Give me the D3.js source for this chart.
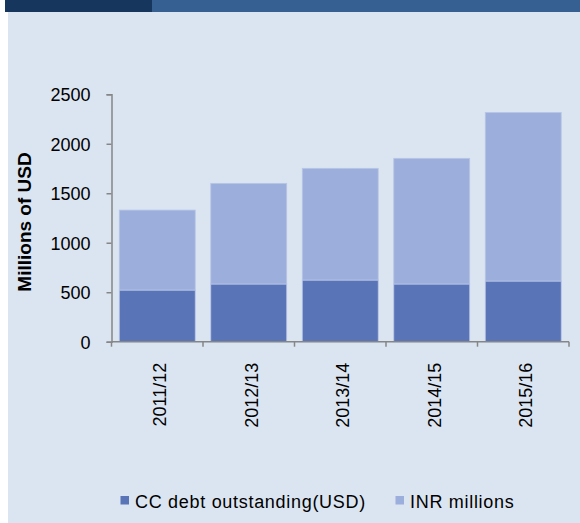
<!DOCTYPE html>
<html lang="en">
<head>
<meta charset="UTF-8">
<title>CC debt outstanding</title>
<style>
    body { margin: 0; background: #fff; }
    svg text { font-family: "Liberation Sans", Arial, sans-serif; fill: #000; }
</style>
</head>
<body>
<div id="chart"></div>
<script src="https://cdn.jsdelivr.net/npm/d3@7"></script>
<script>
    var years = ["2011/12", "2012/13", "2013/14", "2014/15", "2015/16"];
    var ccDebt = [522, 583, 623, 583, 613];
    var inrMillions = [808, 1017, 1129, 1270, 1704];
    var yTicks = [0, 500, 1000, 1500, 2000, 2500];
    var seriesNames = ["CC debt outstanding(USD)", "INR millions"];
    var colors = ["#5a74b8", "#9caedb"];

    var width = 580, height = 523;
    var svg = d3.select("#chart").append("svg")
        .attr("width", width).attr("height", height);

    // header strip + panel background
    svg.append("rect").attr("x", 8).attr("y", 12).attr("width", width - 8).attr("height", height - 12).attr("fill", "#dbe5f1");
    svg.append("rect").attr("x", 5).attr("y", 0).attr("width", 147).attr("height", 12).attr("fill", "#17365d");
    svg.append("rect").attr("x", 152).attr("y", 0).attr("width", width - 152).attr("height", 12).attr("fill", "#366092");

    var plotLeft = 111.5, plotRight = 569, plotTop = 94.3, plotBottom = 341.7;
    var x = d3.scaleBand().domain(years).range([plotLeft, plotRight]).paddingInner(0.17).paddingOuter(0.085);
    var y = d3.scaleLinear().domain([0, 2500]).range([plotBottom, plotTop]);

    var stackData = years.map(function (yr, i) { return {year: yr, cc: ccDebt[i], inr: inrMillions[i]}; });
    var series = d3.stack().keys(["cc", "inr"])(stackData);

    var g = svg.append("g");
    series.forEach(function (s, k) {
        g.selectAll(".bar" + k).data(s).enter().append("rect")
            .attr("class", "bar" + k)
            .attr("x", function (d) { return x(d.data.year); })
            .attr("width", x.bandwidth())
            .attr("y", function (d) { return y(d[1]); })
            .attr("height", function (d) { return y(d[0]) - y(d[1]); })
            .attr("fill", colors[k])
            .attr("stroke", "#b8c5e6").attr("stroke-width", 0.8);
    });

    // y axis
    var yAxis = svg.append("g").attr("transform", "translate(" + plotLeft + ",0)")
        .call(d3.axisLeft(y).tickValues(yTicks).tickFormat(d3.format("d")).tickSize(5).tickPadding(16));
    yAxis.select(".domain").attr("stroke", "#868686").attr("stroke-width", 1.5);
    yAxis.selectAll(".tick line").attr("stroke", "#868686").attr("stroke-width", 1.5);
    yAxis.selectAll(".tick text").attr("font-size", "18px")
        .attr("font-family", "Liberation Sans, Arial, sans-serif").attr("dy", "0.36em");

    // x axis with boundary ticks
    var xAxis = svg.append("g").attr("transform", "translate(0," + plotBottom + ")");
    xAxis.append("line").attr("x1", plotLeft).attr("x2", plotRight).attr("stroke", "#868686").attr("stroke-width", 1.5);
    var step = (plotRight - plotLeft) / years.length;
    xAxis.selectAll(".xt").data(d3.range(years.length + 1)).enter().append("line")
        .attr("x1", function (i) { return plotLeft + i * step; })
        .attr("x2", function (i) { return plotLeft + i * step; })
        .attr("y1", 0).attr("y2", 5)
        .attr("stroke", "#868686").attr("stroke-width", 1.5);
    xAxis.selectAll(".xl").data(years).enter().append("text")
        .attr("transform", function (d) {
            return "translate(" + (x(d) + x.bandwidth() / 2 + 9) + ",21)rotate(-90)";
        })
        .attr("text-anchor", "end")
        .attr("font-size", "18px")
        .text(function (d) { return d; });

    // y title
    svg.append("text")
        .attr("transform", "translate(31,222)rotate(-90)")
        .attr("text-anchor", "middle")
        .attr("font-size", "19px").attr("font-weight", "bold")
        .text("Millions of USD");

    // legend
    var legX = [120.5, 395.5];
    seriesNames.forEach(function (name, i) {
        svg.append("rect").attr("x", legX[i]).attr("y", 496).attr("width", 8.5).attr("height", 8.5).attr("fill", colors[i]);
        svg.append("text").attr("x", legX[i] + 14.5).attr("y", 508)
            .attr("font-size", "18px").attr("letter-spacing", "0.7px").text(name);
    });
</script>
</body>
</html>
